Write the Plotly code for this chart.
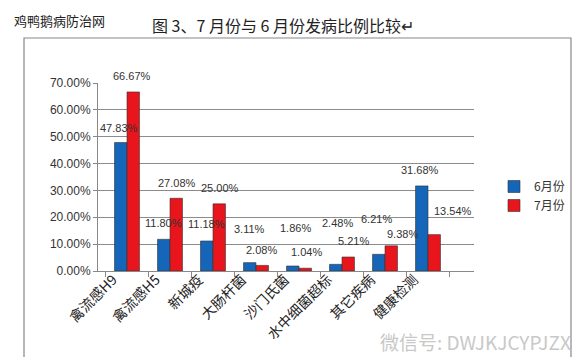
import plotly.graph_objects as go

categories = ["禽流感H9", "禽流感H5", "新城疫", "大肠杆菌", "沙门氏菌", "水中细菌超标", "其它疾病", "健康检测"]
june = [47.83, 11.80, 11.18, 3.11, 1.86, 2.48, 6.21, 31.68]
july = [66.67, 27.08, 25.00, 2.08, 1.04, 5.21, 9.38, 13.54]
series_names = ["6月份", "7月份"]
colors = ["#1565b8", "#e8151c"]

# label offsets in pixels (dx, dy above bar top) for each series
june_label_dx = [-1, 0, 0, 0, 3, 2, -2, -1]
june_label_dy = [15, 16, 17, 34, 38, 41, 35, 16]
july_label_dx = [-2, 0, 0, -2, 0, 4, 10, 18]
july_label_dy = [16, 15, 16, 15, 16, 16, 12, 24]

W, H = 581, 357
L, R, T, B = 90, 466, 75, 263
BAR_HALF = 7

def px2paper(x, y):
    return (x - L) / (R - L), (B - y) / (B - T)

fig = go.Figure()
annotations = []
for name, vals, col, dxs, dys, sgn in zip(series_names, [june, july], colors,
                                          [june_label_dx, july_label_dx],
                                          [june_label_dy, july_label_dy], [-1, 1]):
    fig.add_trace(go.Bar(
        x=categories, y=[v / 100 for v in vals], name=name,
        marker=dict(color=col, line=dict(color="#333333", width=0.6)),
    ))
    for c, v, dx, dy in zip(categories, vals, dxs, dys):
        annotations.append(dict(
            x=c, y=v / 100, xref="x", yref="y", text=f"{v:.2f}%", showarrow=False,
            xshift=sgn * BAR_HALF + dx, yshift=dy, xanchor="center", yanchor="middle",
            font=dict(family="Liberation Sans, Arial", size=11, color="#333333")))

x0, y0 = px2paper(16, 30)
x1, y1 = px2paper(563, 352)
shapes = [dict(type="rect", xref="paper", yref="paper", x0=x0, y0=y1, x1=x1, y1=y0,
               line=dict(color="#888888", width=1.2), fillcolor="rgba(0,0,0,0)", layer="below")]

annotations += [
    dict(text="鸡鸭鹅病防治网", xref="paper", yref="paper", x=px2paper(4, 0)[0], y=px2paper(0, 12)[1],
         xanchor="left", yanchor="middle", showarrow=False,
         font=dict(family="Noto Sans CJK SC", size=13, color="#222222")),
    dict(text="图 3、7 月份与 6 月份发病比例比较↵", xref="paper", yref="paper",
         x=px2paper(275, 0)[0], y=px2paper(0, 17)[1], xanchor="center", yanchor="middle",
         showarrow=False, font=dict(family="Noto Sans CJK SC", size=16, color="#222222")),
    dict(text="微信号: DWJKJCYPJZX", xref="paper", yref="paper",
         x=px2paper(565, 0)[0], y=px2paper(0, 333)[1], xanchor="right", yanchor="middle",
         showarrow=False, font=dict(family="Noto Sans CJK SC", size=19, color="#c8c8c8")),
]

fig.update_layout(
    width=W, height=H,
    margin=dict(l=L, r=W - R, t=T, b=H - B),
    paper_bgcolor="white", plot_bgcolor="white",
    barmode="group", bargap=0.42, bargroupgap=0.0,
    shapes=shapes, annotations=annotations,
    legend=dict(x=px2paper(486, 0)[0], y=px2paper(0, 164)[1], xanchor="left", yanchor="top",
                font=dict(family="Noto Sans CJK SC", size=12, color="#333333"),
                bgcolor="rgba(0,0,0,0)", itemwidth=30, tracegroupgap=4),
    showlegend=True,
    xaxis=dict(tickangle=-45, showline=True, linecolor="#888888", ticks="outside",
               tickson="boundaries", tickcolor="#888888", ticklen=5,
               ticklabelshift=-14, ticklabelstandoff=-6,
               tickfont=dict(family="Noto Sans CJK SC", size=14, color="#222222")),
    yaxis=dict(range=[0, 0.70], dtick=0.1, tickformat=".2%", showgrid=True,
               gridcolor="#8c8c8c", gridwidth=1, showline=True, linecolor="#888888",
               ticks="outside", tickcolor="#888888", ticklen=4, zeroline=False,
               tickfont=dict(family="Liberation Sans, Arial", size=12, color="#333333")),
)

fig.write_html("out.html")
